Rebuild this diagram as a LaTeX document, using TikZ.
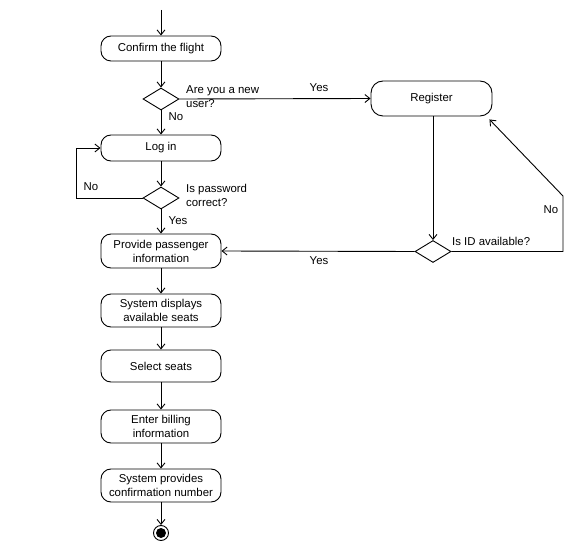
\documentclass[tikz,border=0pt]{standalone}
\usepackage{fontspec}
\setmainfont{Liberation Sans}
\usetikzlibrary{arrows.meta,shapes.geometric}
\begin{document}
\begin{tikzpicture}[x=1pt,y=-1pt,
  every node/.style={font=\fontsize{11.4}{14}\selectfont},
  act/.style={draw,rounded corners=10pt,line width=0.9pt,minimum width=120pt,align=center,inner sep=1pt},
  dec/.style={draw,diamond,aspect=1.64,minimum width=36pt,minimum height=22pt,inner sep=0pt,line width=0.9pt},
  flow/.style={draw,line width=0.9pt,-{Straight Barb[length=5pt,width=8pt,line width=0.9pt]}},
  lbl/.style={inner sep=0pt,align=left}
]
\useasboundingbox (0,0) rectangle (571,548);
\coordinate (s0) at (161,10);
\node[act,minimum height=25pt] (confirm) at (161,48.5) {Confirm the flight};
\node[dec] (d1) at (161,99) {};
\node[act,minimum height=26pt] (login) at (161,148) {Log in};
\node[dec] (d2) at (161,198) {};
\node[act,minimum height=34pt] (provide) at (161,251) {Provide passenger\\information};
\node[act,minimum height=33pt] (display) at (161,310.5) {System displays\\available seats};
\node[act,minimum height=32pt] (select) at (161,366) {Select seats};
\node[act,minimum height=33pt] (billing) at (161,426.5) {Enter billing\\information};
\node[act,minimum height=33pt] (provides) at (161,485.5) {System provides\\confirmation number};
\node[draw,circle,line width=0.9pt,minimum size=15pt,inner sep=0pt] (endc) at (161,533) {};
\node[fill,circle,minimum size=10pt,inner sep=0pt] (endd) at (161,533) {};
\node[act,rounded corners=12pt,minimum width=121pt,minimum height=35pt] (register) at (431.5,98.5) {Register};
\node[dec] (d3) at (433,251.5) {};

\path[flow] (s0) -- (confirm);
\path[flow] (confirm) -- (d1);
\path[flow] (d1) -- (login);
\path[flow] (login) -- (d2);
\path[flow] (d2) -- (provide);
\path[flow] (provide) -- (display);
\path[flow] (display) -- (select);
\path[flow] (select) -- (billing);
\path[flow] (billing) -- (provides);
\path[flow] (provides) -- (endc);
\path[flow] (d1.east) -- (register.west);
\path[flow] (d2.west) -- (76,198) -- (76,148) -- (login.west);
\path[flow] (register.south -| d3) -- (d3.north);
\path[flow] (d3.west) -- (provide.east);
\coordinate (c1) at (563,251.5);
\coordinate (c2) at (563,196);
\path[flow] (d3.east) -- (c1) -- (c2) -- ([xshift=-3pt,yshift=-3pt]register.south east);

\node[lbl,anchor=west] at (186,97) {Are you a new\\user?};
\node[lbl,anchor=west] at (186,195) {Is password\\correct?};
\node[lbl,anchor=west] at (452,241) {Is ID available?};
\node[lbl] at (319,88) {Yes};
\node[lbl] at (319,261) {Yes};
\node[lbl] at (551,210) {No};
\node[lbl] at (91,187) {No};
\node[lbl] at (176,117) {No};
\node[lbl] at (178,221) {Yes};
\end{tikzpicture}
\end{document}
